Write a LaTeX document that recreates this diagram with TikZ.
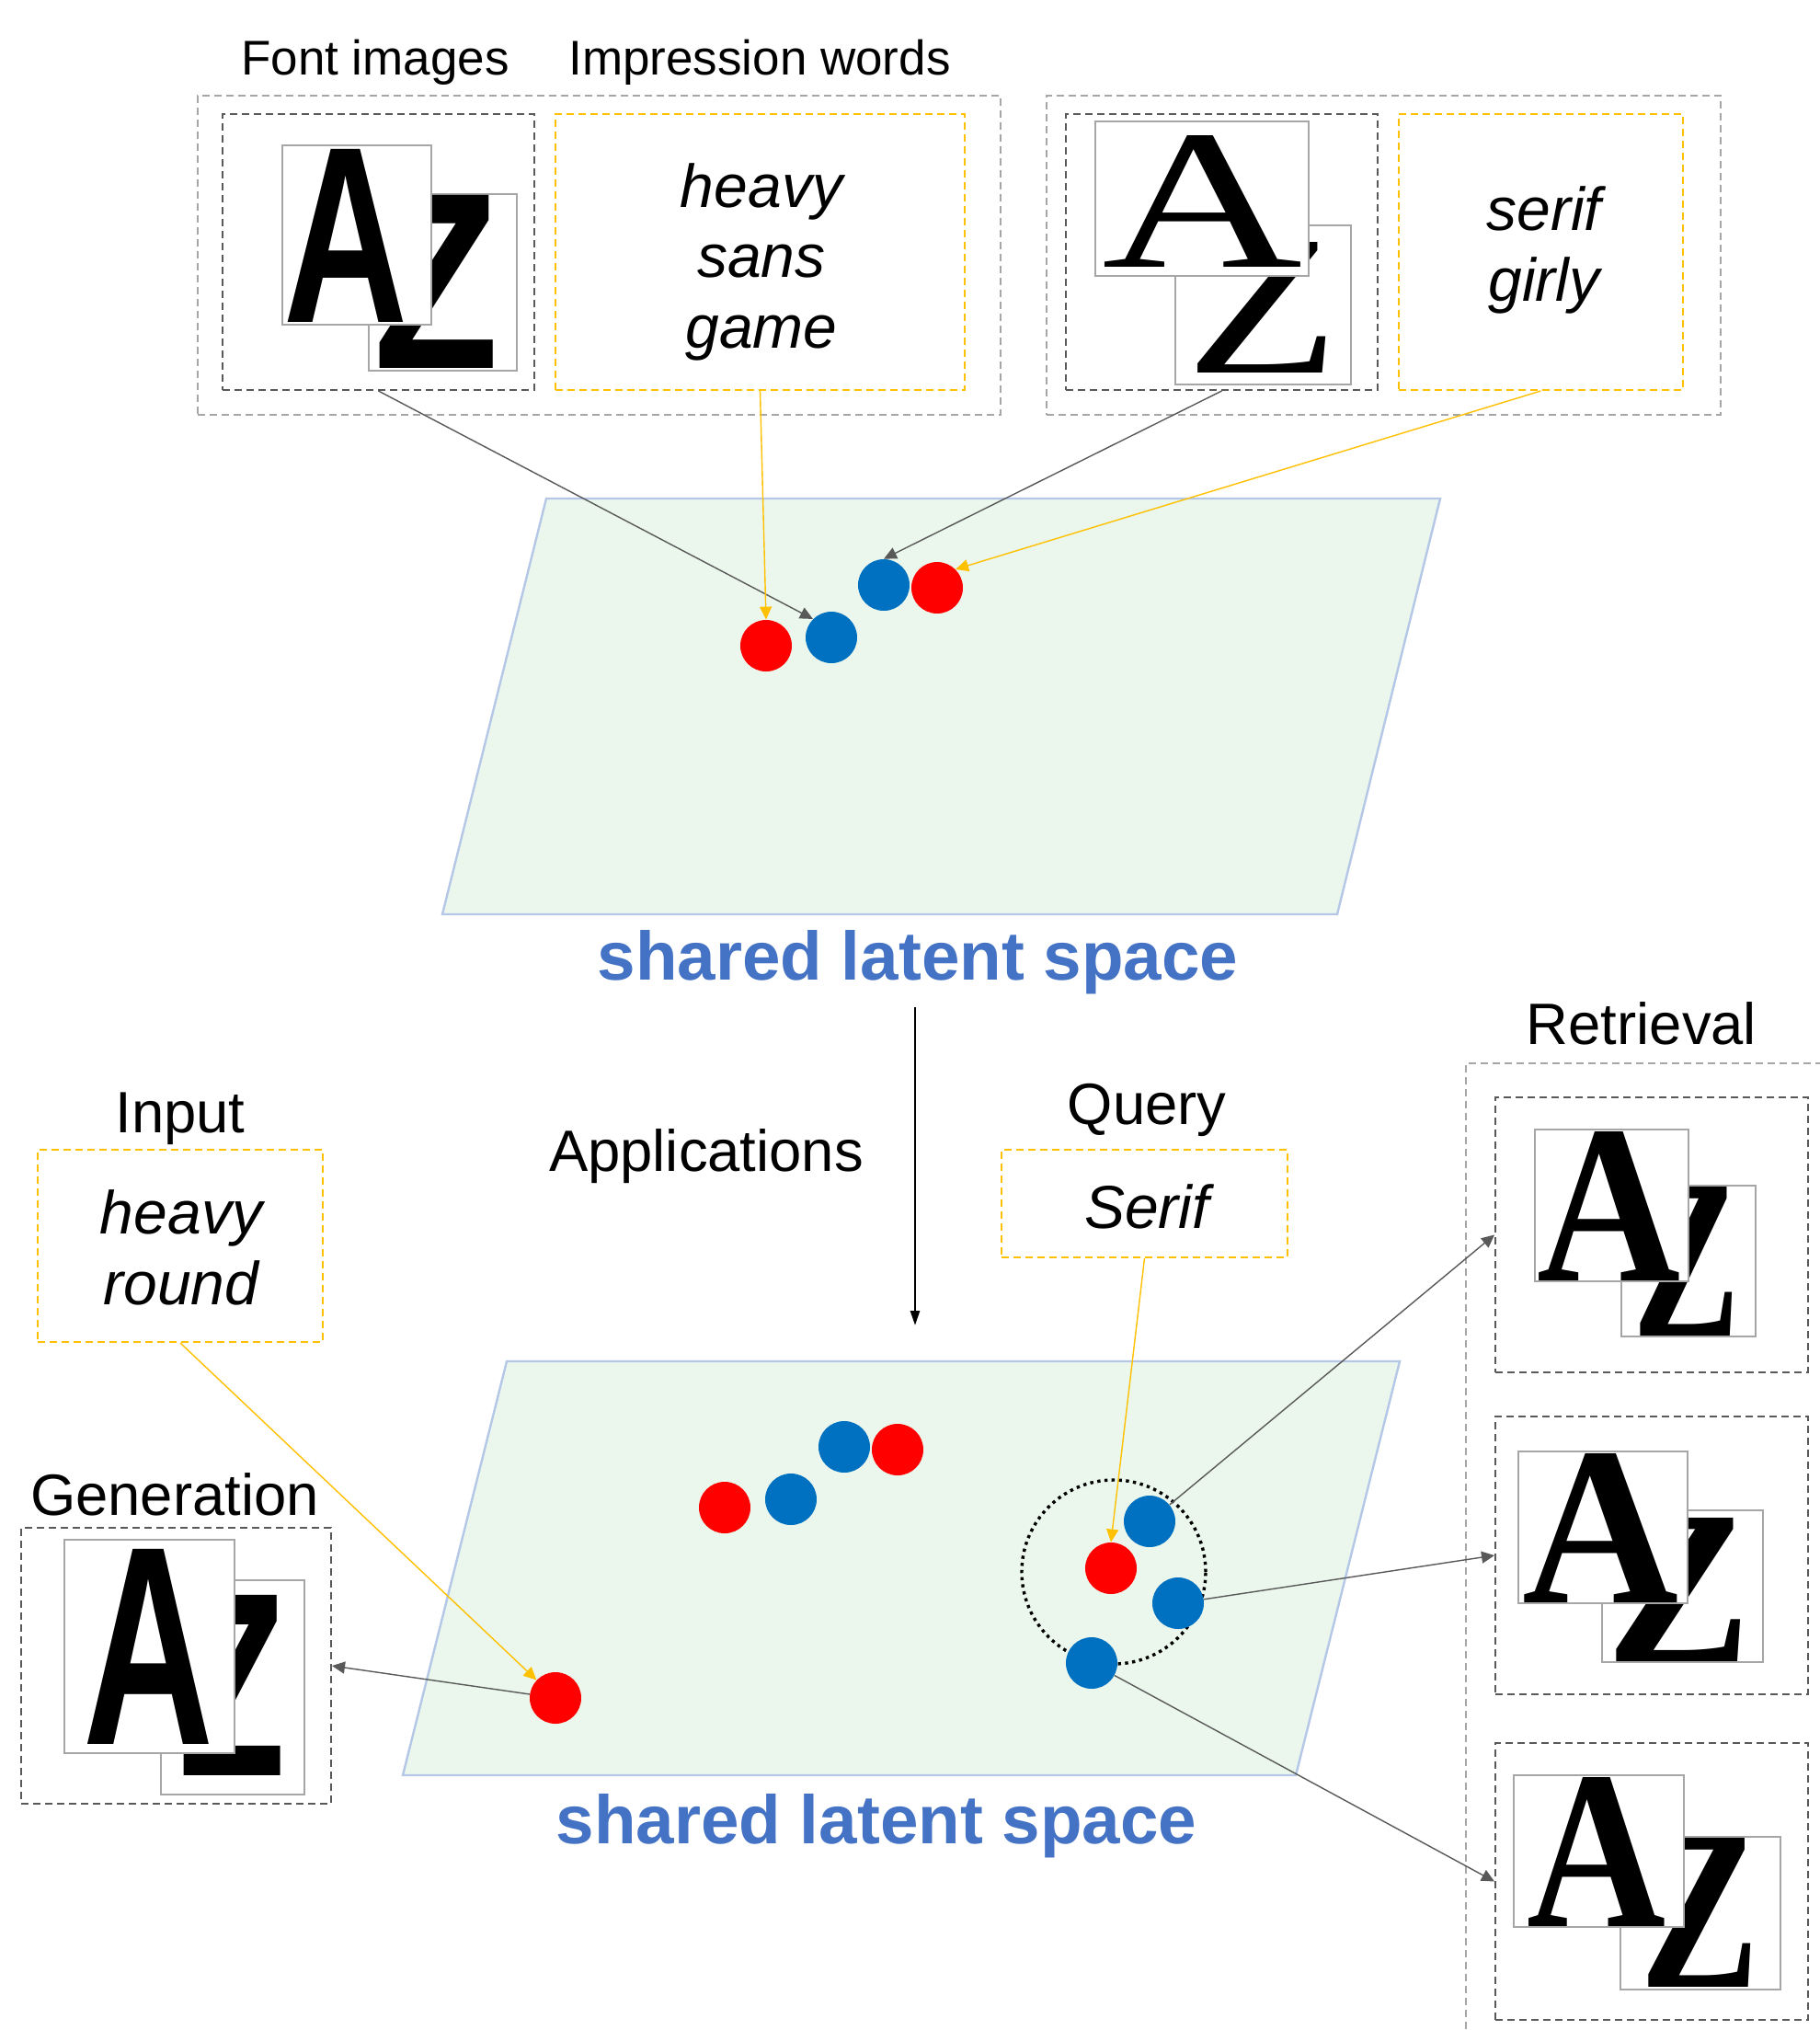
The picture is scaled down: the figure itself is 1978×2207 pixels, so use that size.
\documentclass[tikz,border=0pt]{standalone}
\usepackage{fontspec}
\setmainfont{Liberation Sans}
\newfontfamily\serifglyph{Liberation Serif}
\usetikzlibrary{arrows.meta,fit}
\definecolor{cOuter}{HTML}{A6A6A6}
\definecolor{cDark}{HTML}{595959}
\definecolor{cYel}{HTML}{FFC000}
\definecolor{cImg}{HTML}{A6A6A6}
\definecolor{cRed}{HTML}{FF0000}
\definecolor{cBlue}{HTML}{0070C0}
\definecolor{cPlaneFill}{HTML}{EBF7EC}
\definecolor{cPlaneLine}{HTML}{B4C7E7}
\definecolor{cTitle}{HTML}{4472C4}
\begin{document}
\begin{tikzpicture}[x=0.5pt,y=-0.5pt,
 dashbox/.style={line width=1pt, dash pattern=on 4pt off 2.5pt, inner sep=0pt},
 outerbox/.style={dashbox, draw=cOuter},
 fontbox/.style={dashbox, draw=cDark},
 wordbox/.style={dashbox, draw=cYel},
 imgbox/.style={draw=cImg, fill=white, line width=1pt, inner sep=0pt},
 glyph/.style={inner sep=0pt, anchor=center},
 lbl/.style={anchor=base, font=\fontsize{31.7}{38}\selectfont},
 toplbl/.style={anchor=base, font=\fontsize{26.5}{32}\selectfont},
 word/.style={anchor=base, font=\itshape\fontsize{33}{39}\selectfont},
 titletext/.style={anchor=base, text=cTitle, font=\bfseries\fontsize{37.3}{44}\selectfont},
 rdot/.style={circle, fill=cRed, inner sep=0pt, minimum size=28pt},
 bdot/.style={circle, fill=cBlue, inner sep=0pt, minimum size=28pt},
 plane/.style={fill=cPlaneFill, draw=cPlaneLine, line width=1.2pt},
 garrow/.style={draw=cDark, line width=0.7pt, -{Triangle[length=7pt,width=6.5pt]}},
 yarrow/.style={draw=cYel, line width=0.7pt, -{Triangle[length=7pt,width=6.5pt]}},
]
\fill[white] (0,0) rectangle (1978,2207);
\useasboundingbox (0,0) rectangle (1978,2207);

% ---------- top left group ----------
\node[toplbl] (tFont) at (408,81) {Font images};
\node[toplbl] (tImp) at (826,81) {Impression words};
\node[outerbox, fit={(215,104) (1088,451)}] (grpA) {};
\node[fontbox, fit={(242,124) (581,424)}] (fbA) {};
\node[wordbox, fit={(604,124) (1049,424)}] (wbA) {};
\node[imgbox, fit={(401,211) (562,403)}] (imgAz) {};
\node[glyph] (gAz) at (475,306) {\resizebox{68pt}{94pt}{\bfseries Z}};
\node[imgbox, fit={(307,158) (469,353)}] (imgAa) {};
\node[glyph] (gAa) at (376.5,256) {\resizebox{67.5pt}{94pt}{\bfseries A}};
\node[word] (wA1) at (828,225) {heavy};
\node[word] (wA2) at (828,301) {sans};
\node[word] (wA3) at (828,378) {game};

% ---------- top right group ----------
\node[outerbox, fit={(1138,104) (1871,451)}] (grpB) {};
\node[fontbox, fit={(1159,124) (1498,424)}] (fbB) {};
\node[wordbox, fit={(1521,124) (1830,424)}] (wbB) {};
\node[imgbox, fit={(1278,245) (1469,418)}] (imgBz) {};
\node[glyph] (gBz) at (1373.5,334) {\resizebox{83.5pt}{71pt}{\serifglyph Z}};
\node[imgbox, fit={(1191,132) (1423,300)}] (imgBa) {};
\node[glyph] (gBa) at (1308,218.5) {\resizebox{109pt}{71.5pt}{\serifglyph A}};
\node[word] (wB1) at (1679,250) {serif};
\node[word] (wB2) at (1679,327) {girly};

% ---------- top plane ----------
\draw[plane] (594,542) -- (1566,542) -- (1454,994) -- (481,994) -- cycle;
\node[rdot] (tR1) at (833,702) {};
\node[bdot] (tB1) at (904,693) {};
\node[bdot] (tB2) at (961,636) {};
\node[rdot] (tR2) at (1019,639) {};
\node[titletext] (tTitle1) at (998,1065) {shared latent space};

\draw[garrow] (fbA.south) -- (tB1.north west);
\draw[yarrow] (wbA.south) -- (tR1.north);
\draw[garrow] (fbB.south) -- (tB2.north);
\draw[yarrow] (wbB.south) -- (tR2.north east);

% ---------- applications ----------
\coordinate (appTop) at (995,1095);
\coordinate (appBot) at (995,1441);
\draw[line width=1.3pt, -{Triangle[length=8pt,width=5pt]}] (appTop) -- (appBot);
\node[lbl] (tApp) at (768,1273) {Applications};

% ---------- generation side ----------
\node[lbl] (tInput) at (196,1231) {Input};
\node[wordbox, fit={(41,1250) (351,1459)}] (wbIn) {};
\node[word] (wIn1) at (197,1341) {heavy};
\node[word] (wIn2) at (197,1418) {round};
\node[lbl] (tGen) at (190,1647) {Generation};
\node[fontbox, fit={(23,1661) (360,1961)}] (fbGen) {};
\node[imgbox, fit={(175,1718) (331,1951)}] (imgGz) {};
\node[glyph] (gGz) at (253,1832) {\resizebox{58pt}{98pt}{\bfseries Z}};
\node[imgbox, fit={(70,1674) (255,1906)}] (imgGa) {};
\node[glyph] (gGa) at (162,1790) {\resizebox{71pt}{106pt}{\bfseries A}};

% ---------- bottom plane ----------
\draw[plane] (551,1480) -- (1522,1480) -- (1409,1930) -- (438,1930) -- cycle;
\node[rdot] (bR1) at (788,1639) {};
\node[bdot] (bB1) at (860,1630) {};
\node[bdot] (bB2) at (918,1573) {};
\node[rdot] (bR2) at (976,1576) {};
\node[rdot] (bRin) at (604,1846) {};
\node[circle, draw=black, line width=1.7pt, dash pattern=on 1.7pt off 2.2pt, minimum size=100pt, inner sep=0pt] (qCirc) at (1211,1709) {};
\node[bdot] (qB1) at (1250,1654) {};
\node[rdot] (qR) at (1208,1705) {};
\node[bdot] (qB2) at (1281,1743) {};
\node[bdot] (qB3) at (1187,1808) {};
\node[titletext] (tTitle2) at (953,2004) {shared latent space};

% ---------- query ----------
\node[lbl] (tQuery) at (1247,1222) {Query};
\node[wordbox, fit={(1089,1250) (1400,1367)}] (wbQ) {};
\node[word] (wQ) at (1247,1335) {Serif};

% ---------- retrieval ----------
\node[lbl] (tRet) at (1785,1135) {Retrieval};
\draw[outerbox] (1995,1156) -- (1594,1156) -- (1594,2220);
\node[fontbox, fit={(1626,1193) (1966,1492)}] (rb1) {};
\node[fontbox, fit={(1626,1540) (1966,1842)}] (rb2) {};
\node[fontbox, fit={(1626,1895) (1966,2196)}] (rb3) {};

\node[imgbox, fit={(1763,1289) (1909,1453)}] (r1z) {};
\node[glyph] (gr1z) at (1833.5,1371) {\resizebox{58.5pt}{81pt}{\serifglyph\bfseries Z}};
\node[imgbox, fit={(1669,1228) (1836,1393)}] (r1a) {};
\node[glyph] (gr1a) at (1750,1311) {\resizebox{78pt}{81pt}{\serifglyph\bfseries A}};

\node[imgbox, fit={(1742,1642) (1917,1807)}] (r2z) {};
\node[glyph] (gr2z) at (1826,1728) {\resizebox{79pt}{78pt}{\serifglyph\bfseries Z}};
\node[imgbox, fit={(1651,1578) (1835,1743)}] (r2a) {};
\node[glyph] (gr2a) at (1741,1661) {\resizebox{85pt}{81pt}{\serifglyph\bfseries A}};

\node[imgbox, fit={(1762,1997) (1936,2163)}] (r3z) {};
\node[glyph] (gr3z) at (1849,2079) {\resizebox{65pt}{81pt}{\serifglyph\bfseries Z}};
\node[imgbox, fit={(1646,1930) (1831,2095)}] (r3a) {};
\node[glyph] (gr3a) at (1736.5,2013) {\resizebox{75.5pt}{81pt}{\serifglyph\bfseries A}};

% ---------- bottom connectors ----------
\draw[yarrow] (wbIn.south) -- (bRin);
\draw[garrow] (bRin) -- (fbGen.east);
\draw[yarrow] (wbQ.south) -- (qR.north);
\draw[garrow] (qB1) -- (rb1.west);
\draw[garrow] (qB2) -- (rb2.west);
\draw[garrow] (qB3) -- (rb3.west);
\end{tikzpicture}
\end{document}
